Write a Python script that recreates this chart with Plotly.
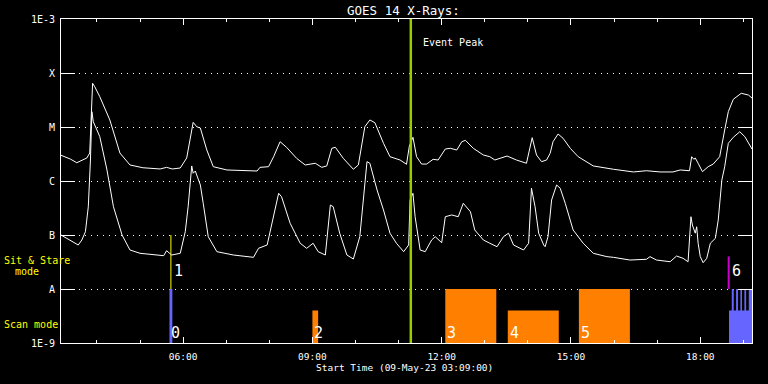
import pandas as pd
import plotly.graph_objects as go

DAY = "2023-05-09 "

# ---- GOES long channel (1-8 A) ----
long_times = ["03:10", "03:23", "03:32", "03:46", "03:50", "03:53", "03:54", "03:57", "04:04", "04:18",
              "04:32", "04:46", "05:04", "05:28", "05:37", "05:45", "05:56", "06:05", "06:12", "06:14",
              "06:19", "06:24", "06:33", "06:42", "07:01", "07:43", "07:47", "07:59", "08:06", "08:15",
              "08:24", "08:38", "08:50", "09:04", "09:13", "09:20", "09:27", "09:32", "09:43", "09:57",
              "10:04", "10:13", "10:20", "10:27", "10:39", "10:48", "11:02", "11:11", "11:15", "11:20",
              "11:25", "11:32", "11:39", "11:48", "11:55", "12:05", "12:12", "12:21", "12:28", "12:33",
              "12:44", "12:58", "13:07", "13:14", "13:31", "13:44", "13:58", "14:03", "14:06", "14:12",
              "14:19", "14:26", "14:31", "14:35", "14:42", "14:49", "14:59", "15:10", "15:31", "15:59",
              "16:27", "16:45", "17:04", "17:22", "17:32", "17:45", "17:48", "17:51", "17:53", "17:57",
              "18:03", "18:11", "18:18", "18:27", "18:31", "18:34", "18:39", "18:46", "18:57", "19:07",
              "19:12"]
long_flux = [3.0e-6, 2.55e-6, 2.18e-6, 2.67e-6, 3.30e-6, 2.06e-5, 6.45e-5, 5.57e-5, 3.64e-5, 1.35e-5,
             3.30e-6, 1.98e-6, 1.76e-6, 1.67e-6, 1.79e-6, 1.67e-6, 1.74e-6, 2.67e-6, 1.01e-5, 1.22e-5,
             1.01e-5, 9.58e-6, 3.75e-6, 1.84e-6, 1.60e-6, 1.53e-6, 1.79e-6, 1.84e-6, 2.82e-6, 5.34e-6,
             4.21e-6, 2.63e-6, 1.98e-6, 2.13e-6, 1.79e-6, 1.90e-6, 4.03e-6, 4.21e-6, 2.63e-6, 1.65e-6,
             1.98e-6, 1.01e-5, 1.35e-5, 1.20e-5, 4.99e-6, 2.82e-6, 2.45e-6, 2.04e-6, 4.45e-6, 6.45e-6,
             2.82e-6, 2.06e-6, 2.06e-6, 2.52e-6, 2.45e-6, 3.91e-6, 4.03e-6, 3.75e-6, 5.34e-6, 5.67e-6,
             4.03e-6, 3.03e-6, 2.82e-6, 2.45e-6, 2.90e-6, 2.45e-6, 2.13e-6, 4.03e-6, 6.34e-6, 3.03e-6,
             2.28e-6, 2.45e-6, 3.26e-6, 5.34e-6, 7.42e-6, 6.18e-6, 4.03e-6, 2.82e-6, 1.90e-6, 1.65e-6,
             1.47e-6, 1.55e-6, 1.47e-6, 1.47e-6, 1.60e-6, 1.55e-6, 2.82e-6, 2.52e-6, 2.67e-6, 2.13e-6,
             1.49e-6, 1.84e-6, 2.06e-6, 2.82e-6, 5.74e-6, 8.81e-6, 1.92e-5, 3.26e-5, 4.21e-5, 3.91e-5,
             3.44e-5]

# ---- GOES short channel (0.5-4 A) ----
short_times = ["03:10", "03:23", "03:34", "03:39", "03:44", "03:48", "03:51", "03:53", "03:55", "04:00",
               "04:04", "04:14", "04:23", "04:35", "04:46", "05:00", "05:19", "05:33", "05:37", "05:44",
               "05:56", "06:03", "06:07", "06:12", "06:14", "06:17", "06:19", "06:24", "06:28", "06:35",
               "06:47", "07:10", "07:38", "07:45", "07:57", "08:06", "08:13", "08:17", "08:29", "08:43",
               "08:52", "09:01", "09:08", "09:18", "09:25", "09:29", "09:38", "09:48", "09:57", "10:06",
               "10:16", "10:20", "10:30", "10:39", "10:48", "10:57", "11:07", "11:14", "11:16", "11:20",
               "11:23", "11:30", "11:37", "11:46", "11:51", "12:00", "12:05", "12:14", "12:23", "12:30",
               "12:40", "12:46", "12:58", "13:07", "13:17", "13:26", "13:33", "13:40", "13:54", "14:01",
               "14:05", "14:10", "14:15", "14:22", "14:24", "14:28", "14:33", "14:40", "14:45", "14:52",
               "15:03", "15:17", "15:31", "15:50", "15:59", "16:22", "16:45", "16:50", "16:59", "17:18",
               "17:27", "17:36", "17:43", "17:47", "17:49", "17:53", "17:55", "17:57", "18:00", "18:04",
               "18:09", "18:14", "18:21", "18:25", "18:30", "18:34", "18:39", "18:46", "18:55", "19:02",
               "19:08", "19:12"]
short_flux = [1.0e-7, 8.08e-8, 6.53e-8, 8.08e-8, 1.15e-7, 3.34e-7, 2.45e-6, 1.92e-5, 1.25e-5, 8.81e-6,
              6.62e-6, 1.60e-6, 3.34e-7, 1.0e-7, 5.28e-8, 4.58e-8, 4.40e-8, 4.14e-8, 5.12e-8, 4.26e-8,
              4.58e-8, 1.15e-7, 3.34e-7, 1.90e-6, 1.39e-6, 1.53e-6, 1.29e-6, 8.44e-7, 3.86e-7, 9.30e-8,
              4.91e-8, 4.26e-8, 3.86e-8, 5.67e-8, 6.53e-8, 2.18e-7, 5.92e-7, 5.12e-7, 1.65e-7, 7.03e-8,
              5.67e-8, 7.03e-8, 4.91e-8, 4.26e-8, 3.59e-7, 3.34e-7, 1.08e-7, 4.26e-8, 3.59e-8, 9.30e-8,
              2.28e-6, 2.13e-6, 6.82e-7, 2.90e-7, 1.08e-7, 7.03e-8, 4.91e-8, 6.53e-8, 4.45e-7, 5.92e-7,
              2.18e-7, 5.28e-8, 4.91e-8, 8.08e-8, 9.30e-8, 7.20e-8, 2.18e-7, 2.35e-7, 2.18e-7, 3.86e-7,
              2.70e-7, 1.24e-7, 8.08e-8, 7.03e-8, 6.07e-8, 9.30e-8, 1.08e-7, 6.53e-8, 5.28e-8, 7.03e-8,
              7.33e-7, 3.34e-7, 1.08e-7, 6.53e-8, 6.07e-8, 9.30e-8, 4.45e-7, 8.44e-7, 7.33e-7, 3.86e-7,
              1.24e-7, 7.03e-8, 4.58e-8, 3.97e-8, 3.86e-8, 3.44e-8, 3.55e-8, 3.97e-8, 3.44e-8, 3.20e-8,
              4.08e-8, 3.70e-8, 3.20e-8, 2.18e-7, 1.53e-7, 1.08e-7, 1.42e-7, 7.03e-8, 3.97e-8, 3.07e-8,
              3.70e-8, 7.03e-8, 8.68e-8, 1.90e-7, 1.04e-6, 1.84e-6, 4.99e-6, 6.45e-6, 8.17e-6, 6.62e-6,
              4.64e-6, 3.91e-6]

# ---- Scan-mode blocks ----
scan_ids = ["0", "2", "3", "4", "5", "", "", "", "", "", ""]
scan_start = ["05:41", "09:00", "12:05", "13:32", "15:11", "18:40",
              "18:43:50", "18:49:50", "18:55:50", "19:01:25", "19:07:30"]
scan_end = ["05:45", "09:08", "13:16", "14:43", "16:22", "19:12",
            "18:46:35", "18:52:35", "18:58:05", "19:03:50", "19:12"]
scan_top = [1e-8, 4e-9, 1e-8, 4e-9, 1e-8, 4e-9, 1e-8, 1e-8, 1e-8, 1e-8, 1e-8]
scan_color = ["#6666ff", "#ff8000", "#ff8000", "#ff8000", "#ff8000", "#6666ff",
              "#6666ff", "#6666ff", "#6666ff", "#6666ff", "#6666ff"]
SCAN_BASE = 1e-9

# ---- Sit & Stare markers ----
stare_ids = ["1", "6"]
stare_time = ["05:43", "18:39:30"]
stare_base = [1e-8, 1e-8]
stare_top = [1e-7, 4e-8]
stare_color = ["#ffff00", "#cc00cc"]
stare_width = [1, 2]

event_peak = "11:17"

y_tickvals = [1e-9, 1e-8, 1e-7, 1e-6, 1e-5, 1e-4, 1e-3]
y_ticktext = ["1E-9", "A", "B", "C", "M", "X", "1E-3"]

x_range = ["03:10", "19:12"]

FONT = "DejaVu Sans Mono"


def T(s):
    return pd.to_datetime(DAY + s)


fig = go.Figure()

# scan-mode filled blocks
for s, e, top, col in zip(scan_start, scan_end, scan_top, scan_color):
    fig.add_trace(go.Scatter(
        x=[T(s), T(s), T(e), T(e), T(s)],
        y=[SCAN_BASE, top, top, SCAN_BASE, SCAN_BASE],
        mode="lines", fill="toself", fillcolor=col,
        line=dict(width=0, color=col), hoverinfo="skip", showlegend=False))

# sit & stare lines
for t, b, top, col, w in zip(stare_time, stare_base, stare_top, stare_color, stare_width):
    fig.add_trace(go.Scatter(x=[T(t), T(t)], y=[b, top], mode="lines",
                             line=dict(color=col, width=w), hoverinfo="skip", showlegend=False))

# flux curves
fig.add_trace(go.Scatter(x=[T(t) for t in long_times], y=long_flux, mode="lines",
                         line=dict(color="white", width=1), hoverinfo="skip", showlegend=False))
fig.add_trace(go.Scatter(x=[T(t) for t in short_times], y=short_flux, mode="lines",
                         line=dict(color="white", width=1), hoverinfo="skip", showlegend=False))

# event peak line
fig.add_trace(go.Scatter(x=[T(event_peak), T(event_peak)], y=[1e-9, 1e-3], mode="lines",
                         line=dict(color="#9acd00", width=2.5), hoverinfo="skip", showlegend=False))

annotations = []
for lab, s in zip(scan_ids, scan_start):
    if lab:
        annotations.append(dict(x=T(s), y=-8.815, xref="x", yref="y", text=lab, showarrow=False,
                                xanchor="left", yanchor="middle",
                                font=dict(family=FONT, size=15, color="white")))
for lab, t in zip(stare_ids, stare_time):
    annotations.append(dict(x=T(t), y=-7.667, xref="x", yref="y", text=lab, showarrow=False,
                            xanchor="left", yanchor="middle", xshift=1,
                            font=dict(family=FONT, size=15, color="white")))

annotations.append(dict(x=T(event_peak), y=0.927, xref="x", yref="paper", text="Event Peak",
                        showarrow=False, xanchor="left", yanchor="middle", xshift=10,
                        font=dict(family=FONT, size=10, color="white")))

# left-side mode labels (paper coords: plot area x from 61 to 752, y from 19 to 343)
def px(xp):
    return (xp - 61) / 691.0


def py(yp):
    return (343 - yp) / 324.0


annotations += [
    dict(x=px(1.5), y=py(260), xref="paper", yref="paper", text="Sit & Stare", showarrow=False,
         xanchor="left", yanchor="middle", font=dict(family=FONT, size=10, color="#ffff00")),
    dict(x=px(13), y=py(271), xref="paper", yref="paper", text="mode", showarrow=False,
         xanchor="left", yanchor="middle", font=dict(family=FONT, size=10, color="#ffff00")),
    dict(x=px(1.5), y=py(324), xref="paper", yref="paper", text="Scan mode", showarrow=False,
         xanchor="left", yanchor="middle", font=dict(family=FONT, size=10, color="#ffff00")),
    dict(x=px(404.5), y=py(368), xref="paper", yref="paper", text="Start Time (09-May-23 03:09:00)",
         showarrow=False, xanchor="center", yanchor="middle",
         font=dict(family=FONT, size=9.5, color="white")),
    dict(x=px(403), y=py(10), xref="paper", yref="paper", text="GOES 14 X-Rays:",
         showarrow=False, xanchor="center", yanchor="middle",
         font=dict(family=FONT, size=12.5, color="white")),
]

fig.update_layout(
    width=768, height=384,
    margin=dict(l=61, r=16, t=19, b=41, pad=0),
    paper_bgcolor="black", plot_bgcolor="black",
    showlegend=False,
    annotations=annotations,
    xaxis=dict(
        type="date", range=[T(x_range[0]), T(x_range[1])],
        tickformat="%H:%M", dtick=3 * 3600000, tick0=DAY + "00:00",
        ticks="inside", ticklen=6, tickwidth=1, tickcolor="white",
        minor=dict(dtick=3600000, ticks="inside", ticklen=3, tickcolor="white", showgrid=False),
        showline=True, linecolor="white", linewidth=1, mirror="ticks",
        showgrid=False, zeroline=False, ticklabelstandoff=5,
        tickfont=dict(family=FONT, size=9.5, color="white"),
    ),
    yaxis=dict(
        type="log", range=[-9, -3],
        tickvals=y_tickvals, ticktext=y_ticktext,
        ticks="inside", ticklen=14, tickwidth=1, tickcolor="white",
        showline=True, linecolor="white", linewidth=1, mirror="ticks",
        showgrid=True, gridcolor="white", gridwidth=1, griddash="1px,5px",
        zeroline=False, ticklabelstandoff=3,
        tickfont=dict(family=FONT, size=10, color="white"),
    ),
)

fig.write_html("out.html", config={"displayModeBar": False})
